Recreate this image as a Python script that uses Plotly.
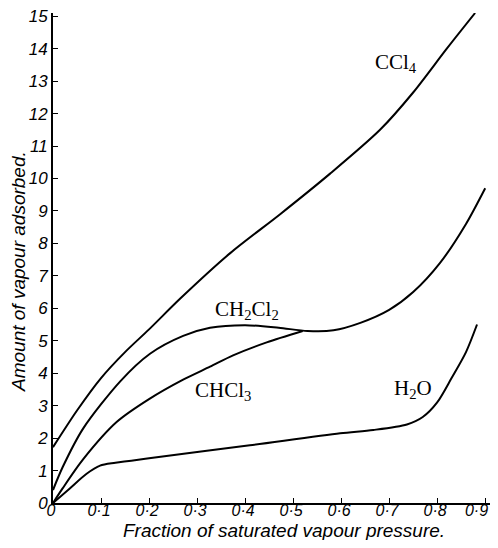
import plotly.graph_objects as go

# Data (x = fraction of saturated vapour pressure)
ccl4_x = [0.0, 0.05, 0.1, 0.15, 0.2, 0.265, 0.369, 0.473, 0.577, 0.681, 0.75, 0.82, 0.879]
ccl4_y = [1.72, 2.85, 3.85, 4.65, 5.35, 6.3, 7.7, 8.9, 10.15, 11.5, 12.65, 14.0, 15.1]

ch2cl2_x = [0.0, 0.02, 0.063, 0.14, 0.202, 0.271, 0.327, 0.4, 0.47, 0.53, 0.584, 0.64, 0.7, 0.75, 0.806, 0.86, 0.9]
ch2cl2_y = [0.4, 1.1, 2.3, 3.75, 4.6, 5.15, 5.4, 5.48, 5.4, 5.3, 5.32, 5.55, 5.95, 6.5, 7.4, 8.6, 9.7]

chcl3_x = [0.0, 0.02, 0.063, 0.133, 0.2, 0.271, 0.327, 0.375, 0.445, 0.52]
chcl3_y = [0.0, 0.45, 1.35, 2.5, 3.2, 3.8, 4.2, 4.55, 4.95, 5.3]

h2o_x = [0.0, 0.035, 0.07, 0.098, 0.13, 0.2, 0.41, 0.598, 0.667, 0.737, 0.77, 0.8, 0.83, 0.86, 0.883]
h2o_y = [0.0, 0.45, 0.9, 1.15, 1.24, 1.38, 1.78, 2.15, 2.25, 2.42, 2.65, 3.1, 3.85, 4.65, 5.5]

x_ticks = [0, 0.1, 0.2, 0.3, 0.4, 0.5, 0.6, 0.7, 0.8, 0.9]
# trailing no-break spaces keep the last label inside the visible frame
x_tick_labels = ["0", "0·1", "0·2", "0·3", "0·4", "0·5", "0·6", "0·7", "0·8", "0·9\u00a0\u00a0\u00a0"]
y_ticks = list(range(0, 16))
y_tick_labels = [str(v) for v in y_ticks]

labels = [
    ("CCl<sub>4</sub>", 0.715, 13.55),
    ("CH<sub>2</sub>Cl<sub>2</sub>", 0.404, 5.95),
    ("CHCl<sub>3</sub>", 0.354, 3.45),
    ("H<sub>2</sub>O", 0.75, 3.5),
]

# The page body adds an 8 px offset; the figure is sized so the visible frame matches.
W, H = 490, 532
ML, MR, MT, MB = 45, 8, 5, 37
PW, PH = W - ML - MR, H - MT - MB

fig = go.Figure()
for xs, ys in [(ccl4_x, ccl4_y), (ch2cl2_x, ch2cl2_y), (chcl3_x, chcl3_y), (h2o_x, h2o_y)]:
    fig.add_trace(go.Scatter(x=xs, y=ys, mode="lines",
                             line=dict(color="black", width=2, shape="spline", smoothing=0.8),
                             showlegend=False, hoverinfo="skip"))

for txt, lx, ly in labels:
    fig.add_annotation(x=lx, y=ly, text=txt, showarrow=False,
                       font=dict(family="Liberation Serif", size=21, color="black"))

# axis titles
fig.add_annotation(xref="paper", yref="paper", x=(284 - 53) / PW, y=-(530 - 503) / PH,
                   xanchor="center", yanchor="middle",
                   text="Fraction of saturated vapour pressure.", showarrow=False,
                   font=dict(family="Liberation Sans", size=19, color="black", style="italic"))
fig.add_annotation(xref="paper", yref="paper", x=-(53 - 18) / PW, y=(503 - 272) / PH,
                   xanchor="center", yanchor="middle",
                   text="Amount of vapour adsorbed.", showarrow=False, textangle=-90,
                   font=dict(family="Liberation Sans", size=19, color="black", style="italic"))

tick_font = dict(family="Liberation Sans", size=16, color="black", style="italic")
ytick_font = dict(family="Liberation Sans", size=17, color="black", style="italic")

fig.update_layout(
    width=W, height=H,
    margin=dict(l=ML, r=MR, t=MT, b=MB),
    paper_bgcolor="white", plot_bgcolor="white",
    xaxis=dict(range=[0, 0.91], tickvals=x_ticks, ticktext=x_tick_labels,
               ticks="inside", ticklen=5, tickcolor="black", tickwidth=1.2,
               showline=True, linecolor="black", linewidth=2, showgrid=False, zeroline=False,
               tickfont=tick_font, automargin=False, ticklabeloverflow="allow",
               ticklabelstandoff=-8, ticklabelshift=-2),
    yaxis=dict(range=[0, 15.1], tickvals=y_ticks, ticktext=y_tick_labels,
               ticks="inside", ticklen=5, tickcolor="black", tickwidth=1.2,
               showline=True, linecolor="black", linewidth=2, showgrid=False, zeroline=False,
               tickfont=ytick_font, automargin=False, ticklabeloverflow="allow"),
)

fig.write_html("out.html")
